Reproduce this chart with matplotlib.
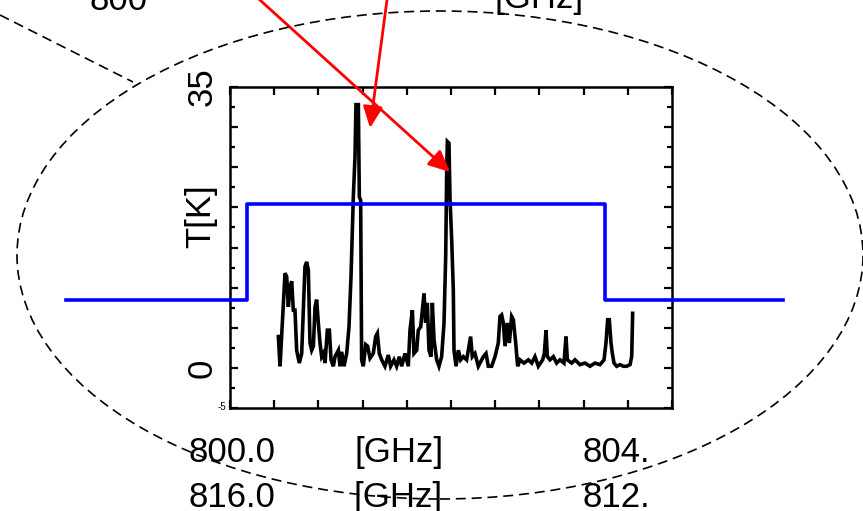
import matplotlib
matplotlib.use("Agg")
import matplotlib.pyplot as plt
from matplotlib.patches import Ellipse
from matplotlib.lines import Line2D
from matplotlib.ticker import MultipleLocator

plt.rcParams['font.family'] = ['Liberation Sans', 'DejaVu Sans']

# spectrum: frequency [GHz], antenna temperature [K]
freq = [800.547, 800.566, 800.596, 800.622, 800.641, 800.660, 800.679, 800.698,
        800.716, 800.735, 800.754, 800.784, 800.811, 800.830, 800.848, 800.867,
        800.886, 800.905, 800.924, 800.943, 800.962, 800.980, 800.999, 801.018,
        801.037, 801.056, 801.075, 801.101, 801.124, 801.143, 801.169, 801.188,
        801.226, 801.244, 801.263, 801.290, 801.320, 801.346, 801.369, 801.395,
        801.414, 801.425, 801.452, 801.463, 801.478, 801.489, 801.508, 801.535,
        801.557, 801.584, 801.621, 801.648, 801.667, 801.689, 801.716, 801.753,
        801.791, 801.817, 801.855, 801.885, 801.916, 801.942, 801.980, 802.017,
        802.036, 802.063, 802.081, 802.112, 802.130, 802.157, 802.195, 802.213,
        802.232, 802.251, 802.274, 802.289, 802.308, 802.338, 802.364, 802.394,
        802.421, 802.440, 802.451, 802.459, 802.477, 802.489, 802.508, 802.526,
        802.534, 802.557, 802.583, 802.609, 802.640, 802.677, 802.696, 802.722,
        802.741, 802.771, 802.809, 802.847, 802.866, 802.896, 802.922, 802.960,
        802.998, 803.035, 803.054, 803.073, 803.092, 803.111, 803.137, 803.160,
        803.186, 803.205, 803.232, 803.254, 803.281, 803.326, 803.375, 803.413,
        803.450, 803.488, 803.537, 803.556, 803.575, 803.590, 803.620, 803.658,
        803.695, 803.733, 803.778, 803.801, 803.816, 803.865, 803.903, 803.959,
        804.016, 804.072, 804.129, 804.185, 804.231, 804.253, 804.272, 804.291,
        804.310, 804.325, 804.344, 804.374, 804.412, 804.450, 804.487, 804.525,
        804.544, 804.555]
temp = [3.9, 0.2, 6.4, 11.8, 11.4, 7.6, 10.1, 10.8,
        7.2, 7.2, 2.2, 0.6, 1.8, 7.2, 12.6, 13.2,
        12.2, 3.1, 2.2, 2.7, 7.6, 8.5, 5.6, 3.1,
        1.4, 1.8, 0.6, 4.7, 4.7, 1.0, 0.2, 1.4,
        2.2, 0.2, 2.0, 0.2, 1.8, 5.1, 11.4, 21.3,
        26.3, 32.8, 32.8, 21.3, 20.9, 1.0, 0.2, 2.9,
        2.7, 1.2, 1.8, 3.9, 4.3, 1.8, 1.0, 0.2,
        1.6, 0.2, 1.0, 0.2, 1.4, 0.2, 1.8, 0.2,
        4.7, 7.2, 1.8, 2.2, 4.7, 5.1, 9.3, 5.6,
        8.1, 2.2, 1.4, 8.1, 3.5, 1.0, 0.2, 1.4,
        5.6, 13.9, 24.3, 28.2, 28.0, 21.0, 15.9, 9.7,
        2.2, 0.2, 2.2, 1.0, 1.4, 1.0, 2.2, 3.9,
        1.4, 1.8, 0.2, 1.0, 1.4, 1.8, 0.2, 0.2,
        1.4, 3.1, 6.4, 6.6, 5.6, 2.7, 5.6, 3.1,
        6.4, 6.0, 3.1, 0.2, 1.0, 0.6, 1.0, 0.6,
        1.4, 0.2, 1.0, 1.8, 4.7, 1.4, 1.0, 1.4,
        0.6, 1.0, 0.6, 3.9, 1.0, 0.6, 1.0, 0.4,
        0.6, 0.2, 0.6, 0.4, 1.0, 3.1, 6.0, 6.0,
        3.1, 1.8, 0.6, 0.2, 0.4, 0.2, 0.2, 0.4,
        1.4, 6.8]

# receiver passband (blue step)
band_edges = [798.15, 800.19, 804.24, 806.26]
band_level = [8.5, 20.4, 8.5, 8.5]

# lines pointed at by the red arrows
peak_freq = [801.584, 802.489]
peak_temp = [29.9, 24.4]

W, H = 863, 511
fig = plt.figure(figsize=(W / 100, H / 100), dpi=100)


def fx(px):
    return px / W


def fy(py):
    return 1 - py / H


ax = fig.add_axes([fx(230), fy(408), fx(672) - fx(230), fy(87) - fy(408)])
ax.plot(freq, temp, color='black', lw=2.6, solid_joinstyle='miter')
ax.step(band_edges, band_level, where='post', color='#0000ff', lw=2.6, clip_on=False, zorder=3)

ax.set_xlim(800, 805)
ax.set_ylim(-5, 35)
ax.xaxis.set_major_locator(MultipleLocator(0.5))
ax.yaxis.set_major_locator(MultipleLocator(5))
ax.yaxis.set_minor_locator(MultipleLocator(2.5))
ax.tick_params(which='both', direction='in', top=True, right=True, width=1.6)
ax.tick_params(which='major', length=6)
ax.tick_params(which='minor', length=3.5)
ax.tick_params(axis='x', labelbottom=False)
ax.set_yticks([-5, 0, 5, 10, 15, 20, 25, 30, 35])
ax.set_yticklabels(['', '0', '', '', '', '', '', '', '35'], rotation=90, va='center',
                   fontsize=25)
ax.tick_params(axis='y', pad=8)
for s in ax.spines.values():
    s.set_linewidth(1.8)

# red arrows
arrow_style = dict(arrowstyle='-|>,head_length=0.65,head_width=0.3', color='red', lw=2,
                   shrinkA=0, shrinkB=0, mutation_scale=20)
ax.annotate('', xy=(peak_freq[0], peak_temp[0]), xycoords='data',
            xytext=(fx(387.5), fy(-4)), textcoords='figure fraction',
            arrowprops=arrow_style, annotation_clip=False)
ax.annotate('', xy=(peak_freq[1], peak_temp[1]), xycoords='data',
            xytext=(fx(255.5), fy(-4)), textcoords='figure fraction',
            arrowprops=arrow_style, annotation_clip=False)

# dashed ellipse and the line leading into it
fig.patches.append(Ellipse((fx(440), fy(255)), fx(846), 488 / H, transform=fig.transFigure,
                           fill=False, ec='black', lw=1.2, ls=(0, (6, 3.5))))
fig.lines.append(Line2D([fx(0), fx(133)], [fy(15), fy(82)], transform=fig.transFigure,
                        color='black', lw=1.2, ls=(0, (6, 3.5))))

# texts
fs = 25
fig.text(fx(201), fy(216), 'T[K]', rotation=90, ha='center', va='center', fontsize=fs)
fig.text(fx(222), fy(407), '-5', ha='center', va='center', fontsize=7)
fig.text(fx(231.5), fy(462), '800.0', ha='center', va='baseline', fontsize=fs)
fig.text(fx(399), fy(462), '[GHz]', ha='center', va='baseline', fontsize=fs)
fig.text(fx(582), fy(462), '804.', ha='left', va='baseline', fontsize=fs)
fig.text(fx(231.5), fy(507), '816.0', ha='center', va='baseline', fontsize=fs)
fig.text(fx(398), fy(507), '[GHz]', ha='center', va='baseline', fontsize=fs)
fig.text(fx(582), fy(507), '812.', ha='left', va='baseline', fontsize=fs)
fig.text(fx(118.5), fy(10), '800', ha='center', va='baseline', fontsize=fs)
fig.text(fx(539), fy(8), '[GHz]', ha='center', va='baseline', fontsize=fs)

fig.savefig('out.png', dpi=100)
